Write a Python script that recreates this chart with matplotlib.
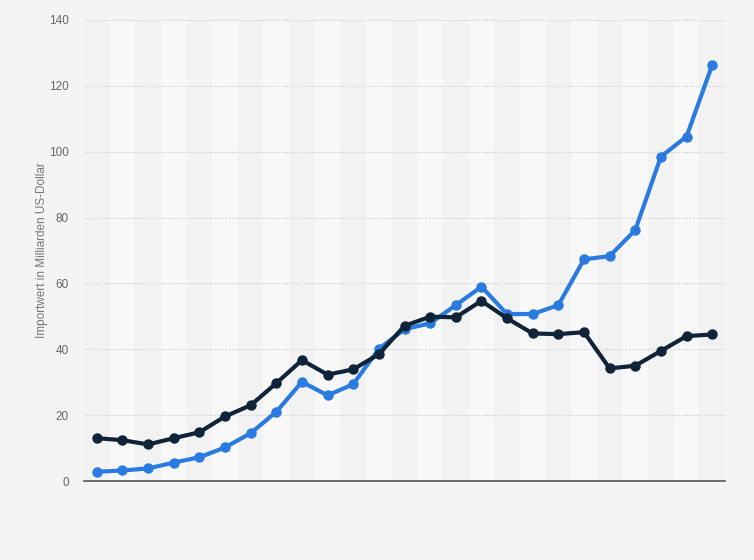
import matplotlib
matplotlib.use("Agg")
import matplotlib.pyplot as plt
import numpy as np

# Data (25 periods, no x labels shown in reference)
periods = list(range(1, 26))
series_blue = [2.8, 3.2, 3.8, 5.6, 7.2, 10.2, 14.5, 21.0, 30.1, 26.0, 29.4, 40.1,
               46.1, 47.9, 53.4, 59.0, 50.7, 50.7, 53.4, 67.3, 68.3, 76.2, 98.5, 104.6, 126.3]
series_dark = [13.0, 12.4, 11.1, 13.0, 14.8, 19.6, 23.0, 29.7, 36.7, 32.3, 33.9, 38.5,
               47.1, 49.9, 49.7, 54.7, 49.4, 44.8, 44.6, 45.2, 34.2, 35.0, 39.5, 44.0, 44.5]
y_ticks = [0, 20, 40, 60, 80, 100, 120, 140]
y_label = "Importwert in Milliarden US-Dollar"

plt.rcParams["font.family"] = ["Liberation Sans", "DejaVu Sans"]

fig = plt.figure(figsize=(7.54, 5.6), dpi=100)
fig.patch.set_facecolor("#f4f4f4")
ax = fig.add_axes([84/754, 1-481/560, (725-84)/754, (481-20)/560])
ax.set_facecolor("#f8f8f8")

x = np.arange(len(periods))
# alternating stripes
for i in x:
    if i % 2 == 0:
        ax.axvspan(i-0.5, i+0.5, color="#f2f2f2", zorder=0, lw=0)

ax.plot(x, series_blue, color="#2a7be0", lw=3, marker="o", ms=6.5, zorder=3)
ax.plot(x, series_dark, color="#0f2438", lw=3, marker="o", ms=6.5, zorder=4)

ax.set_xlim(-0.5, len(periods)-0.5)
ax.set_ylim(0, 140)
ax.set_yticks(y_ticks)
ax.set_xticks([])
ax.tick_params(axis="y", length=0, labelsize=8.5, labelcolor="#666666", pad=11)
for t in y_ticks[1:]:
    ax.axhline(t, color="#cccccc", lw=0.8, ls=(0, (1, 1.5)), zorder=1)
for s in ["top", "right", "left"]:
    ax.spines[s].set_visible(False)
ax.spines["bottom"].set_color("#555555")
ax.spines["bottom"].set_linewidth(1.2)
ax.spines["bottom"].set_zorder(5)
ax.set_ylabel(y_label, fontsize=8.5, color="#777777")
ax.yaxis.set_label_coords(-(84-48)/641, 0.5)

fig.savefig("out.png", dpi=100, facecolor=fig.get_facecolor())
